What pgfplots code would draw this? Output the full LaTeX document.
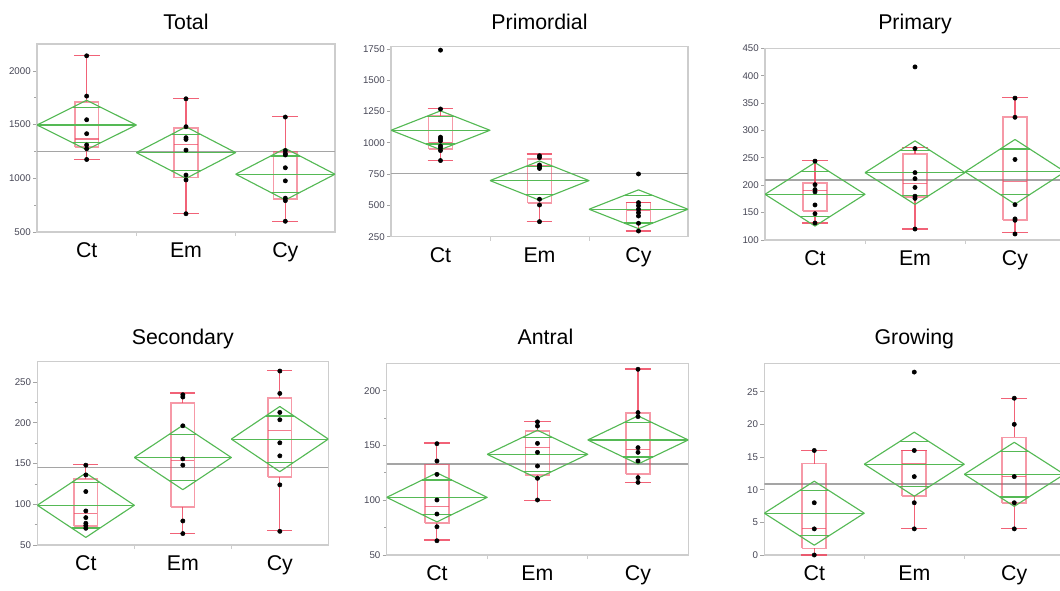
\documentclass[border=0pt]{standalone}
\usepackage{fontspec}
\setmainfont{Liberation Sans}
\usepackage{pgfplots}
\pgfplotsset{compat=1.18}
\definecolor{boxred}{RGB}{238,70,95}
\definecolor{dgreen}{RGB}{85,185,85}
\definecolor{framegray}{RGB}{205,205,205}
\definecolor{meangray}{RGB}{165,165,165}
\definecolor{ticklab}{RGB}{70,70,85}

\newcommand{\grp}[9]{%
 \pgfmathsetmacro\xl{#1-0.12}\pgfmathsetmacro\xr{#1+0.12}%
 \pgfmathsetmacro\capl{#1-0.13}\pgfmathsetmacro\capr{#1+0.13}%
 \pgfmathsetmacro\xa{#1-0.5}\pgfmathsetmacro\xb{#1+0.5}%
 \pgfmathsetmacro\ovl{#1-0.1464}\pgfmathsetmacro\ovr{#1+0.1464}%
 \pgfmathsetmacro\yt{#7+#8}\pgfmathsetmacro\yb{#7-#8}%
 \pgfmathsetmacro\ot{#7+0.7071*#8}\pgfmathsetmacro\ob{#7-0.7071*#8}%
 \addplot[boxred, line width=1.3pt, opacity=0.55] coordinates {(\xl,#3) (\xr,#3) (\xr,#5) (\xl,#5) (\xl,#3)};
 \addplot[boxred, line width=1pt, opacity=0.7] coordinates {(\xl,#4) (\xr,#4)};
 \addplot[boxred, line width=0.8pt, opacity=0.85] coordinates {(#1,#5) (#1,#6)};
 \addplot[boxred, line width=0.8pt, opacity=0.85] coordinates {(#1,#3) (#1,#2)};
 \addplot[boxred, line width=0.9pt, opacity=0.85] coordinates {(\capl,#6) (\capr,#6)};
 \addplot[boxred, line width=0.9pt, opacity=0.85] coordinates {(\capl,#2) (\capr,#2)};
 \addplot[dgreen, line width=0.85pt, line join=round] coordinates {(\xa,#7) (#1,\yt) (\xb,#7) (#1,\yb) (\xa,#7)};
 \addplot[dgreen, line width=0.85pt] coordinates {(\xa,#7) (\xb,#7)};
 \addplot[dgreen, line width=0.85pt] coordinates {(\ovl,\ot) (\ovr,\ot)};
 \addplot[dgreen, line width=0.85pt] coordinates {(\ovl,\ob) (\ovr,\ob)};
 \addplot[only marks, mark=*, mark size=1.6pt, black] coordinates {#9};
}
\newcommand{\gmean}[1]{\addplot[meangray, line width=1pt] coordinates {(0.5,#1) (3.5,#1)};}

\pgfplotsset{
 panel/.style={
  scale only axis, anchor=south west,
  xmin=0.5, xmax=3.5,
  tick pos=left,
  xtick={1,2,3}, xticklabels={Ct,Em,Cy},
  xtick style={draw=none},
  extra x ticks={1.5,2.5}, extra x tick labels={},
  extra x tick style={xtick style={draw=framegray, line width=0.6pt}},
  tick align=outside, major tick length=3pt, minor tick length=2pt,
  ytick style={draw=framegray!80!black, line width=0.5pt},
  axis line style={draw=framegray, line width=0.9pt},
  xticklabel style={font=\fontsize{16}{19}\selectfont, anchor=north, inner sep=0pt, yshift=-5pt},
  yticklabel style={font=\fontsize{7.3}{9}\selectfont, color=ticklab, inner sep=1.5pt},
  /pgf/number format/assume math mode=true,
  /pgf/number format/1000 sep={},
  title style={font=\fontsize{16}{19}\selectfont, at={(0.5,1)}, anchor=base},
  clip=true,
 }
}

\begin{document}
\begin{tikzpicture}
% Total
\begin{axis}[panel, at={(27.75pt,268.5pt)}, width=223.5pt, height=141pt,
  ymin=500, ymax=2250, ytick={500,1000,1500,2000}, minor y tick num=1, title={Total},
  title style={yshift=4.5pt}]
 \gmean{1248}
 \grp{1}{1175}{1289}{1366}{1712}{2145}{1496}{230}{(1,2140) (1,1765) (1,1545) (1,1415) (1,1310) (1,1275) (1,1175)}
 \grp{2}{670}{1007}{1316}{1465}{1740}{1239}{240}{(2,1740) (2,1480) (2,1378) (2,1362) (2,1262) (2,1030) (2,985) (2,670)}
 \grp{3}{600}{806}{1038}{1245}{1573}{1038}{240}{(3,1570) (3,1258) (3,1230) (3,1217) (3,1098) (3,976) (3,815) (3,792) (3,600)}
\end{axis}
% Primordial
\begin{axis}[panel, at={(293.25pt,265pt)}, width=222.75pt, height=142.5pt,
  ymin=250, ymax=1768, ytick={250,500,750,1000,1250,1500,1750}, title={Primordial},
  title style={yshift=6.75pt}]
 \gmean{756}
 \grp{1}{860}{953}{1004}{1215}{1276}{1100}{155}{(1,1740) (1,1270) (1,1045) (1,1030) (1,1015) (1,975) (1,958) (1,938) (1,858)}
 \grp{2}{370}{517}{815}{871}{911}{698}{157}{(2,897) (2,882) (2,823) (2,808) (2,795) (2,549) (2,503) (2,370)}
 \grp{3}{295}{362}{463}{522}{522}{469}{155}{(3,751) (3,522) (3,498) (3,469) (3,442) (3,415) (3,357) (3,295)}
\end{axis}
% Primary
\begin{axis}[panel, at={(573.75pt,262.5pt)}, width=225pt, height=143.8pt,
  ymin=100, ymax=450, ytick={100,150,...,450}, title={Primary},
  title style={yshift=8.25pt}]
 \gmean{209.6}
 \grp{1}{131}{153}{190}{203.5}{245}{183.4}{58}{(1,244) (1,201) (1,192) (1,188) (1,164) (1,148) (1,131)}
 \grp{2}{120}{178.5}{203.5}{257.6}{269}{223}{58}{(2,416) (2,267) (2,223) (2,212) (2,196) (2,180) (2,176) (2,120)}
 \grp{3}{113}{136.5}{206.5}{325}{360}{224.5}{59}{(3,359) (3,324) (3,247) (3,164.5) (3,138.5) (3,136) (3,111)}
\end{axis}
% Secondary
\begin{axis}[panel, at={(28pt,33.75pt)}, width=218.25pt, height=137.5pt,
  ymin=50, ymax=275, ytick={50,100,...,250}, minor y tick num=1, title={Secondary},
  title style={yshift=6.75pt}]
 \gmean{145.5}
 \grp{1}{70.5}{73.4}{89}{130.7}{149.2}{98.8}{39.5}{(1,148) (1,136) (1,115.6) (1,91.8) (1,83.6) (1,76.7) (1,73.8) (1,70.5)}
 \grp{2}{64}{97}{153.3}{224.2}{236.5}{157.4}{39.5}{(2,234.4) (2,231.6) (2,196.3) (2,155.7) (2,148) (2,79.5) (2,64)}
 \grp{3}{67.6}{133.2}{190.2}{230.3}{264.3}{180}{40}{(3,263.5) (3,236) (3,212.7) (3,203.7) (3,175.4) (3,159.4) (3,123.8) (3,66.8)}
\end{axis}
% Antral
\begin{axis}[panel, at={(290pt,26.25pt)}, width=226.2pt, height=143.8pt,
  ymin=50, ymax=225, ytick={50,100,150,200}, minor y tick num=1, title={Antral},
  title style={xshift=6pt, yshift=8.25pt}]
 \gmean{133}
 \grp{1}{63.7}{79.5}{94}{132.7}{152.2}{102.6}{22.4}{(1,151.6) (1,135.8) (1,123.6) (1,100.2) (1,87.4) (1,75.8) (1,63)}
 \grp{2}{100}{122.7}{148}{163.5}{171.7}{141.9}{22}{(2,171.5) (2,167.7) (2,151.9) (2,143.7) (2,131.2) (2,120) (2,100.2)}
 \grp{3}{116}{124}{146.4}{179.3}{219.8}{155}{22}{(3,219.5) (3,180) (3,176.3) (3,148) (3,143.7) (3,135.8) (3,120.6) (3,116.3)}
\end{axis}
% Growing
\begin{axis}[panel, at={(573.2pt,26.25pt)}, width=225pt, height=143.8pt,
  ymin=0, ymax=29.35, ytick={0,5,...,25}, title={Growing},
  title style={yshift=8.25pt}]
 \gmean{10.87}
 \grp{1}{0}{1}{4.1}{14}{16}{6.4}{4.9}{(1,16) (1,8) (1,4) (1,0)}
 \grp{2}{4}{9}{14}{16}{16}{13.9}{4.9}{(2,28) (2,16) (2,12) (2,8) (2,4)}
 \grp{3}{4}{8}{12}{18}{24}{12.35}{4.9}{(3,24) (3,20) (3,12) (3,8) (3,4)}
\end{axis}
\pgfresetboundingbox
\path[use as bounding box] (0,0) rectangle (795pt,442.5pt);
\end{tikzpicture}
\end{document}
